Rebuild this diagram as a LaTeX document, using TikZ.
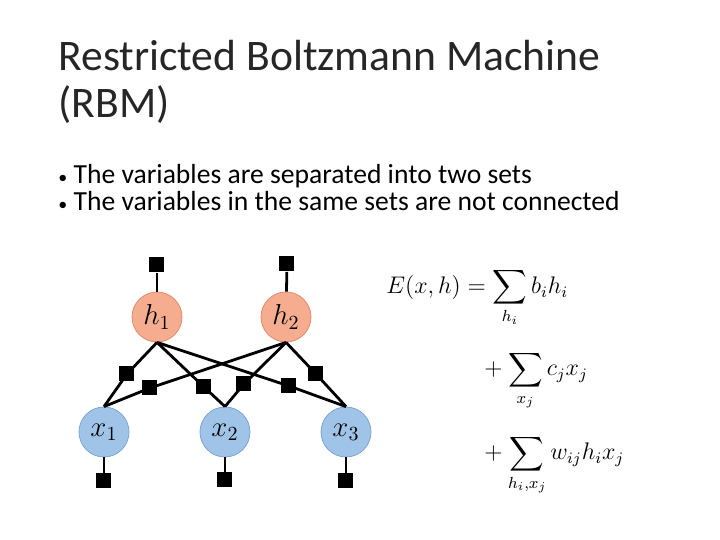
\documentclass[tikz,border=0pt]{standalone}
\usepackage{amsmath}
\usepackage{fontspec}
\setmainfont{Carlito}
\usetikzlibrary{positioning}
\definecolor{hfill}{RGB}{246,172,142}
\definecolor{hdraw}{RGB}{225,140,110}
\definecolor{vfill}{RGB}{160,196,232}
\definecolor{vdraw}{RGB}{125,165,210}
\tikzstyle{hidden} = [circle, minimum size=25pt, fill=hfill, draw=hdraw, inner sep=0pt, font=\Large]
\tikzstyle{visible} = [circle, minimum size=25pt, fill=vfill, draw=vdraw, inner sep=0pt, font=\Large]
\tikzstyle{factor} = [rectangle, fill=black, minimum size=7.5pt, inner sep=0pt]
\tikzstyle{edge} = [line width=1.4pt, black]
\tikzstyle{bullet} = [anchor=base west, font=\fontsize{13.8}{16}\selectfont, inner sep=0pt]

\begin{document}
\begin{tikzpicture}[x=0.5pt, y=-0.5pt]
    \useasboundingbox (0,0) rectangle (720,540);

    % title and bullets
    \node[anchor=north west, align=left, font=\fontsize{21.8}{23.5}\selectfont, inner sep=0pt, text=black!85] (title) at (58,40) {Restricted Boltzmann Machine\\(RBM)};
    \node (bullet1) [bullet] at (58,184) {{\small\textbullet}\ The variables are separated into two sets};
    \node (bullet2) [bullet] at (58,211) {{\small\textbullet}\ The variables in the same sets are not connected};

    % units
    \node (h1) [hidden] at (157,317) {$h_1$};
    \node (h2) [hidden] at (286,317) {$h_2$};
    \node (x1) [visible] at (104,432) {$x_1$};
    \node (x2) [visible] at (225,432) {$x_2$};
    \node (x3) [visible] at (346,432) {$x_3$};

    % unary factors
    \node (fh1) [factor] at (157,265) {};
    \node (fh2) [factor] at (287,264) {};
    \node (fx1) [factor] at (104,481) {};
    \node (fx2) [factor] at (225,480) {};
    \node (fx3) [factor] at (346,481) {};
    \draw [edge] (fh1) -- (h1);
    \draw [edge] (fh2) -- (h2);
    \draw [edge] (fx1) -- (x1);
    \draw [edge] (fx2) -- (x2);
    \draw [edge] (fx3) -- (x3);

    % pairwise factors
    \node (f11) [factor] at (127,374) {};
    \node (f21) [factor] at (150,388) {};
    \node (f12) [factor] at (204,387) {};
    \node (f22) [factor] at (244,384) {};
    \node (f13) [factor] at (289,386) {};
    \node (f23) [factor] at (316,374) {};
    \draw [edge] (h1.south) -- (f11.center) -- (x1.north);
    \draw [edge] (h2.south) -- (f21.center) -- (x1.north);
    \draw [edge] (h1.south) -- (f12.center) -- (x2.north);
    \draw [edge] (h2.south) -- (f22.center) -- (x2.north);
    \draw [edge] (h1.south) -- (f13.center) -- (x3.north);
    \draw [edge] (h2.south) -- (f23.center) -- (x3.north);

    % energy
    \node (energy) [anchor=north west, inner sep=0pt, font=\large] at (386,268) {$\begin{aligned}
        E(x,h) &= \sum_{h_i} b_i h_i\\[8pt]
        &\phantom{=}+\sum_{x_j} c_j x_j\\[8pt]
        &\phantom{=}+\sum_{h_i,x_j} w_{ij} h_i x_j
    \end{aligned}$};
\end{tikzpicture}
\end{document}
